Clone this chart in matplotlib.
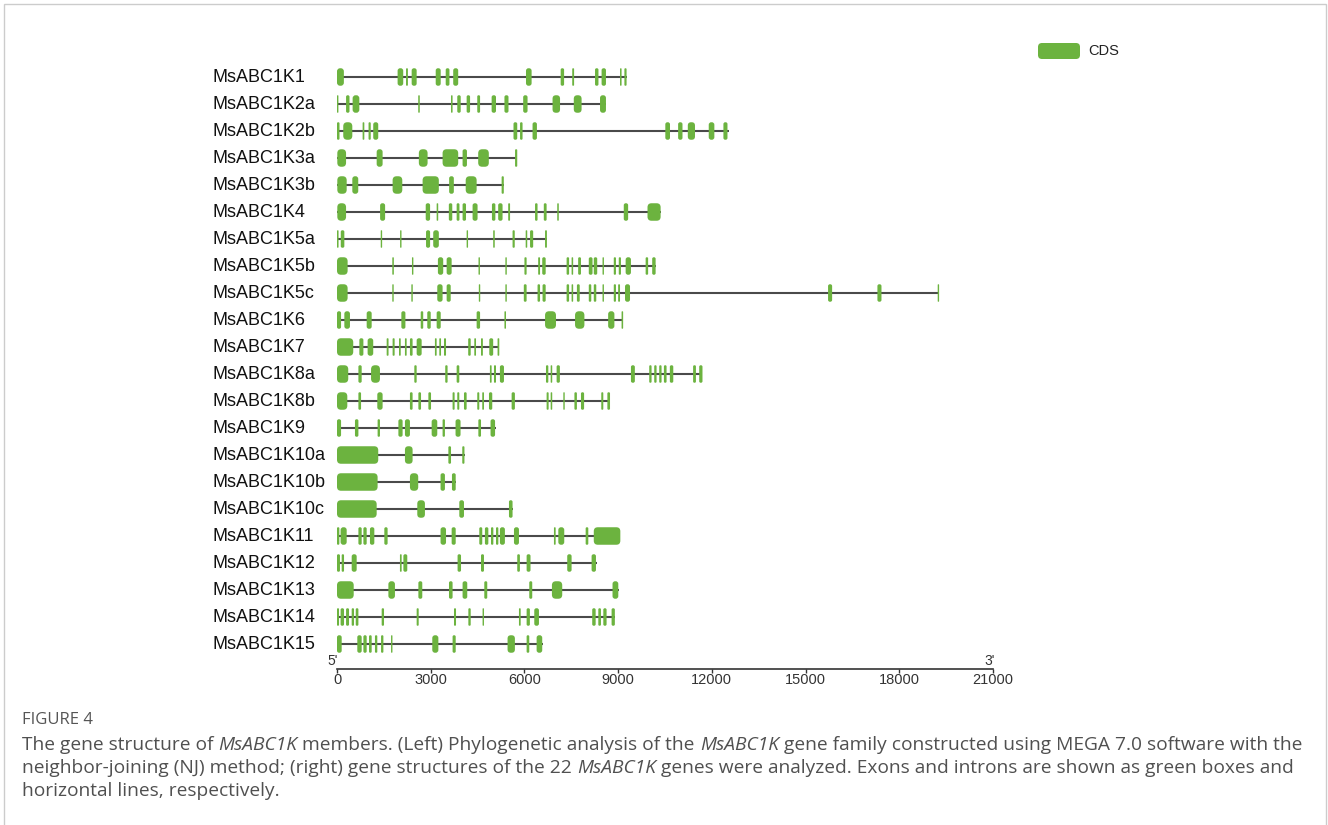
import matplotlib
matplotlib.use("Agg")
import matplotlib.pyplot as plt
from matplotlib.patches import FancyBboxPatch, Rectangle

# gene names, top to bottom
genes = ["MsABC1K1", "MsABC1K2a", "MsABC1K2b", "MsABC1K3a", "MsABC1K3b", "MsABC1K4",
         "MsABC1K5a", "MsABC1K5b", "MsABC1K5c", "MsABC1K6", "MsABC1K7", "MsABC1K8a",
         "MsABC1K8b", "MsABC1K9", "MsABC1K10a", "MsABC1K10b", "MsABC1K10c", "MsABC1K11",
         "MsABC1K12", "MsABC1K13", "MsABC1K14", "MsABC1K15"]

# gene lengths (bp)
gene_len = [9270, 8610, 12540, 5770, 5340, 10360, 6720, 10200, 19270, 9160, 5195,
            11700, 8740, 5080, 4090, 3800, 5620, 9070, 8310, 9020, 8910, 6580]

# CDS segments (start, end) in bp for each gene
cds_k1 = [(0, 220), (1940, 2120), (2210, 2270), (2390, 2550), (3160, 3320), (3480, 3600),
          (3720, 3880), (6050, 6230), (7160, 7270), (7530, 7590), (8260, 8370), (8470, 8610),
          (9060, 9110), (9200, 9270)]
cds_k2a = [(0, 40), (290, 400), (500, 715), (2600, 2650), (3650, 3700), (3850, 3960),
           (4150, 4260), (4490, 4580), (4950, 5090), (5360, 5490), (5960, 6100), (6900, 7140),
           (7580, 7830), (8420, 8610)]
cds_k2b = [(0, 80), (200, 490), (820, 875), (1010, 1080), (1160, 1320), (5650, 5770),
           (5860, 5940), (6260, 6400), (10510, 10660), (10920, 11060), (11230, 11460),
           (11900, 12080), (12370, 12500)]
cds_k3a = [(10, 290), (1270, 1460), (2620, 2900), (3380, 3880), (4020, 4160), (4520, 4860),
           (5700, 5770)]
cds_k3b = [(10, 310), (490, 680), (1780, 2090), (2740, 3260), (3590, 3740), (4120, 4470),
           (5270, 5340)]
cds_k4 = [(10, 290), (1380, 1540), (2840, 2980), (3190, 3240), (3580, 3690), (3830, 3920),
          (4020, 4130), (4340, 4500), (4960, 5070), (5160, 5300), (5480, 5540), (6340, 6420),
          (6620, 6710), (7050, 7100), (9180, 9320), (9940, 10360)]
cds_k5a = [(0, 50), (120, 235), (1400, 1440), (2020, 2060), (2850, 2980), (3080, 3260),
           (4150, 4190), (5000, 5050), (5620, 5690), (6040, 6090), (6180, 6280), (6660, 6720)]
cds_k5b = [(0, 340), (1770, 1820), (2400, 2440), (3230, 3400), (3510, 3670), (4530, 4570),
           (5390, 5430), (6000, 6070), (6440, 6500), (6570, 6680), (7350, 7430), (7510, 7560),
           (7720, 7810), (8060, 8180), (8220, 8330), (8500, 8540), (8860, 8930), (9020, 9090),
           (9240, 9410), (9880, 9960), (10090, 10200)]
cds_k5c = [(0, 340), (1770, 1810), (2380, 2420), (3210, 3380), (3510, 3640), (4540, 4580),
           (5390, 5420), (5980, 6070), (6420, 6500), (6580, 6680), (7350, 7430), (7510, 7560),
           (7680, 7770), (8060, 8140), (8220, 8300), (8500, 8540), (8860, 8930), (9000, 9060),
           (9220, 9380), (15720, 15850), (17300, 17430), (19230, 19270)]
cds_k6 = [(0, 130), (235, 415), (950, 1110), (2060, 2190), (2680, 2760), (2890, 3000),
          (3190, 3320), (4470, 4580), (5360, 5410), (6660, 7010), (7620, 7920), (8680, 8880),
          (9110, 9160)]
cds_k7 = [(0, 520), (715, 845), (980, 1160), (1590, 1650), (1780, 1845), (1985, 2040),
          (2175, 2230), (2335, 2420), (2550, 2710), (3135, 3190), (3275, 3330), (3425, 3490),
          (4200, 4280), (4395, 4450), (4610, 4670), (4875, 5000), (5140, 5195)]
cds_k8a = [(0, 360), (685, 790), (1090, 1375), (2475, 2550), (3465, 3540), (3830, 3915),
           (4895, 4950), (5025, 5090), (5215, 5345), (6690, 6765), (6840, 6890), (7030, 7135),
           (9410, 9535), (9995, 10070), (10155, 10230), (10315, 10390), (10465, 10550),
           (10655, 10765), (11400, 11490), (11595, 11700)]
cds_k8b = [(0, 330), (685, 770), (1290, 1460), (2335, 2420), (2605, 2690), (2925, 3010),
           (3700, 3765), (3850, 3915), (4065, 4150), (4490, 4555), (4650, 4705), (4865, 4970),
           (5590, 5695), (6710, 6775), (6840, 6890), (7245, 7290), (7600, 7680), (7810, 7910),
           (8460, 8525), (8655, 8740)]
cds_k9 = [(0, 130), (575, 685), (1300, 1375), (1965, 2100), (2175, 2335), (3030, 3210),
          (3380, 3455), (3795, 3955), (4525, 4610), (4915, 5060)]
cds_k10a = [(0, 1320), (2175, 2420), (3565, 3650), (4010, 4080)]
cds_k10b = [(0, 1300), (2335, 2600), (3315, 3455), (3680, 3800)]
cds_k10c = [(0, 1270), (2570, 2815), (3915, 4065), (5505, 5620)]
cds_k11 = [(0, 75), (115, 310), (685, 790), (845, 950), (1055, 1195), (1515, 1620),
           (3315, 3490), (3670, 3800), (4555, 4650), (4735, 4845), (4930, 5005), (5090, 5165),
           (5215, 5375), (5665, 5825), (6945, 7000), (7085, 7275), (7960, 8045), (8220, 9070)]
cds_k12 = [(0, 95), (150, 225), (470, 630), (2015, 2070), (2125, 2250), (3860, 3970),
           (4610, 4705), (5770, 5855), (6070, 6195), (7370, 7510), (8150, 8290)]
cds_k13 = [(0, 535), (1645, 1855), (2605, 2730), (3585, 3700), (4020, 4170), (4715, 4810),
           (6155, 6250), (6880, 7210), (8820, 9005)]
cds_k14 = [(0, 65), (115, 225), (290, 385), (470, 545), (600, 685), (1430, 1505), (2550, 2615),
           (3745, 3810), (4205, 4280), (4660, 4705), (5825, 5880), (6070, 6175), (6315, 6465),
           (8170, 8280), (8365, 8450), (8525, 8630), (8790, 8895)]
cds_k15 = [(0, 150), (650, 790), (845, 950), (1025, 1110), (1215, 1290), (1410, 1485),
           (1730, 1770), (3050, 3245), (3700, 3800), (5460, 5695), (6070, 6155), (6390, 6570)]

cds = [cds_k1, cds_k2a, cds_k2b, cds_k3a, cds_k3b, cds_k4, cds_k5a, cds_k5b, cds_k5c, cds_k6,
       cds_k7, cds_k8a, cds_k8b, cds_k9, cds_k10a, cds_k10b, cds_k10c, cds_k11, cds_k12,
       cds_k13, cds_k14, cds_k15]

ticks = [0, 3000, 6000, 9000, 12000, 15000, 18000, 21000]

# caption lines as (text, italic) runs
caption = [
    [("The gene structure of ", False), ("MsABC1K", True),
     (" members. (Left) Phylogenetic analysis of the ", False), ("MsABC1K", True),
     (" gene family constructed using MEGA 7.0 software with the", False)],
    [("neighbor-joining (NJ) method; (right) gene structures of the 22 ", False),
     ("MsABC1K", True),
     (" genes were analyzed. Exons and introns are shown as green boxes and", False)],
    [("horizontal lines, respectively.", False)],
]

green = "#6cb33f"
W, H = 1328, 825
fig = plt.figure(figsize=(W / 100, H / 100), dpi=100)

# axes: x in bp, y in rows (row pitch 27 px)
px_left, px_right = 337, 993
px_top, px_bot = 30, 700
row0, pitch = 77, 27.0
ax = fig.add_axes([px_left / W, 1 - px_bot / H, (px_right - px_left) / W, (px_bot - px_top) / H])
ax.set_xlim(0, 21000)
ax.set_ylim((px_bot - row0) / pitch, -(row0 - px_top) / pitch)

bp_per_px = 21000 / (px_right - px_left)
row_per_px = 1 / pitch
aspect = row_per_px / bp_per_px
box_h = 17.5 * row_per_px

for i, (name, length, segs) in enumerate(zip(genes, gene_len, cds)):
    ax.plot([0, length], [i, i], color="#4a4a4a", lw=1.5, solid_capstyle="butt", zorder=1)
    for s, e in segs:
        w = max(e - s, 45)
        r = min(4 * bp_per_px, w / 2 * 0.9)
        ax.add_patch(FancyBboxPatch((s, i - box_h / 2), w, box_h,
                                    boxstyle=f"round,pad=0,rounding_size={r}",
                                    mutation_aspect=aspect, fc=green, ec="none", zorder=2))
    ax.text(-125 * bp_per_px, i, name, ha="left", va="center", fontsize=13,
            family="Liberation Sans", color="#111111", clip_on=False)

# scale bar along the bottom spine
axis_row = (669 - row0) / pitch
for side in ["top", "left", "right"]:
    ax.spines[side].set_visible(False)
ax.spines["bottom"].set_position(("data", axis_row))
ax.spines["bottom"].set_color("#333333")
ax.spines["bottom"].set_linewidth(1.2)
ax.set_yticks([])
ax.set_xticks(ticks)
ax.set_xticklabels([str(t) for t in ticks])
ax.tick_params(axis="x", direction="out", length=3, width=1, color="#333333", pad=0,
               labelsize=10.5, labelcolor="#333333")
for lab in ax.get_xticklabels():
    lab.set_family("Liberation Sans")
ax.text(-4 * bp_per_px, axis_row - 0.04, "5'", ha="center", va="bottom", fontsize=10,
        color="#333333", family="Liberation Sans")
ax.text(21000 - 3 * bp_per_px, axis_row - 0.04, "3'", ha="center", va="bottom", fontsize=10,
        color="#333333", family="Liberation Sans")

# legend
leg_x = (1038 - px_left) * bp_per_px
leg_w = 42 * bp_per_px
leg_y = (51 - row0) / pitch
ax.add_patch(FancyBboxPatch((leg_x, leg_y - 8 * row_per_px), leg_w, 16 * row_per_px,
                            boxstyle=f"round,pad=0,rounding_size={4 * bp_per_px}",
                            mutation_aspect=aspect, fc=green, ec="none", clip_on=False))
ax.text((1088 - px_left) * bp_per_px, leg_y, "CDS", ha="left", va="center", fontsize=10.5,
        family="Liberation Sans", color="#222222", clip_on=False)

# frame and caption
fig.add_artist(Rectangle((4 / W, -0.01), (1326 - 4) / W, 1.01 - 4 / H, transform=fig.transFigure,
                         fill=False, ec="#cccccc", lw=1))
fig.text(22 / W, 1 - 720 / H, "FIGURE 4", family="Open Sans", color="#555555", fontsize=12,
         ha="left", va="center")

renderer = fig.canvas.get_renderer()
cap_style = dict(family="Open Sans", color="#505050", fontsize=13.75, va="baseline", ha="left")


def text_width(s, italic):
    t = fig.text(0, 0, s, style="italic" if italic else "normal", **cap_style)
    w = t.get_window_extent(renderer).width
    t.remove()
    return w


space_w = text_width("x x", False) - text_width("xx", False)
for k, runs in enumerate(caption):
    x = 22.0
    y = 1 - (750 + 23 * k) / H
    for s, italic in runs:
        lead = len(s) - len(s.lstrip(" "))
        trail = len(s) - len(s.rstrip(" "))
        x += lead * space_w
        body = s.strip(" ")
        fig.text(x / W, y, body, style="italic" if italic else "normal", **cap_style)
        x += text_width(body, italic) + trail * space_w

fig.savefig("out.png", dpi=100)
